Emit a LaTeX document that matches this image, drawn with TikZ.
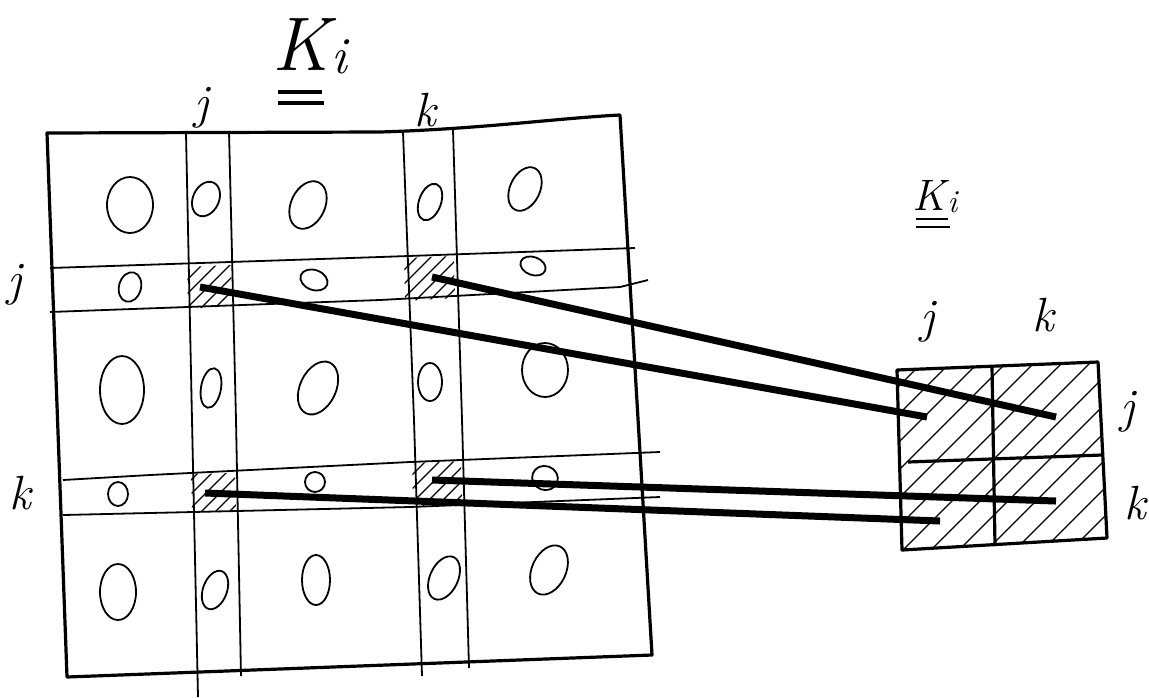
\documentclass[tikz,border=0pt]{standalone}
\begin{document}
\begin{tikzpicture}[x=0.5pt,y=-0.5pt,
  grid/.style={line width=0.9pt, line join=round},
  outer/.style={line width=1.6pt, line join=round},
  blob/.style={line width=0.9pt},
  hatchline/.style={line width=0.6pt},
  conn/.style={line width=3.5pt},
  lab/.style={font=\fontsize{24}{24}\selectfont\itshape, inner sep=0pt},
  biglab/.style={font=\fontsize{38}{38}\selectfont\itshape, inner sep=0pt, anchor=base west},
  midlab/.style={font=\fontsize{22}{22}\selectfont\itshape, inner sep=0pt, anchor=base west}]
\useasboundingbox (0,0) rectangle (1149,697);

% hatched cells of the big matrix
\begin{scope}
\clip (187,267) -- (231,265) -- (232,306) -- (188,309) -- cycle;
\foreach \d in {-40,-26,...,60} \draw[hatchline] (187+\d,320) -- (247+\d,260);
\end{scope}
\begin{scope}
\clip (404,258) -- (454,256) -- (455,298) -- (405,301) -- cycle;
\foreach \d in {-40,-26,...,70} \draw[hatchline] (404+\d,310) -- (464+\d,250);
\end{scope}
\begin{scope}
\clip (191,474) -- (235,473) -- (236,511) -- (192,512) -- cycle;
\foreach \d in {-40,-26,...,60} \draw[hatchline] (191+\d,520) -- (251+\d,460);
\end{scope}
\begin{scope}
\clip (412,463) -- (461,461) -- (462,505) -- (413,507) -- cycle;
\foreach \d in {-40,-26,...,70} \draw[hatchline] (412+\d,515) -- (472+\d,455);
\end{scope}

% big matrix outline
\draw[outer] (47,133) -- (380,132) .. controls (480,129) and (560,118) .. (620,115) -- (652,655) -- (67,677) -- cycle;

% columns j and k
\draw[grid] (186,133) -- (192,420) -- (198,697);
\draw[grid] (229,131) -- (236,420) -- (241,676);
\draw[grid] (403,132) -- (414,420) -- (422,676);
\draw[grid] (453,130) -- (462,420) -- (469,668);

% rows j and k
\draw[grid] (50,268) -- (380,257) -- (635,248);
\draw[grid] (50,312) -- (380,300) -- (620,287) -- (648,280);
\draw[grid] (63,480) -- (150,475) -- (410,462) -- (660,452);
\draw[grid] (63,515) -- (410,507) -- (660,497);

% entries (circles)
\draw[blob] (130,205) ellipse [x radius=23, y radius=28];
\draw[blob] (206,199) ellipse [x radius=13, y radius=18, rotate=-25];
\draw[blob] (308,205) ellipse [x radius=17, y radius=25, rotate=-25];
\draw[blob] (430,202) ellipse [x radius=11, y radius=19, rotate=-20];
\draw[blob] (525,189) ellipse [x radius=15, y radius=23, rotate=-25];

\draw[blob] (130,287) ellipse [x radius=11, y radius=15, rotate=-15];
\draw[blob] (314,280) ellipse [x radius=14, y radius=10, rotate=-20];
\draw[blob] (533,266) ellipse [x radius=13, y radius=9, rotate=-20];

\draw[blob] (122,390) ellipse [x radius=22, y radius=34];
\draw[blob] (211,388) ellipse [x radius=10, y radius=20, rotate=-10];
\draw[blob] (318,388) ellipse [x radius=18, y radius=28, rotate=-25];
\draw[blob] (430,382) ellipse [x radius=12, y radius=19];
\draw[blob] (545,370) ellipse [x radius=23, y radius=27];

\draw[blob] (118,494) ellipse [x radius=10, y radius=12];
\draw[blob] (315,482) ellipse [x radius=10, y radius=10];
\draw[blob] (545,478) ellipse [x radius=13, y radius=12, rotate=-20];

\draw[blob] (118,592) ellipse [x radius=18, y radius=28];
\draw[blob] (215,590) ellipse [x radius=12, y radius=20, rotate=-20];
\draw[blob] (316,580) ellipse [x radius=14, y radius=25];
\draw[blob] (444,578) ellipse [x radius=14, y radius=23, rotate=-25];
\draw[blob] (549,570) ellipse [x radius=17, y radius=26, rotate=-25];

% small matrix
\begin{scope}
\clip (897,370) -- (1098,362) -- (1107,538) -- (902,550) -- cycle;
\foreach \d in {-200,-172,...,220} \draw[hatchline] (897+\d,560) -- (1097+\d,360);
\end{scope}
\draw[outer] (897,370) -- (1098,362) -- (1107,538) -- (902,550) -- cycle;
\draw[outer] (992,367) -- (995,546);
\draw[outer] (908,462) -- (1102,455);

% connector end points
\coordinate (s1) at (200,287);
\coordinate (s2) at (432,277);
\coordinate (s3) at (205,493);
\coordinate (s4) at (432,480);
\coordinate (e1) at (927,417);
\coordinate (e2) at (1056,417);
\coordinate (e3) at (940,521);
\coordinate (e4) at (1056,501);
\draw[conn] (s1) -- (e1);
\draw[conn] (s2) -- (e2);
\draw[conn] (s3) -- (e3);
\draw[conn] (s4) -- (e4);

% labels of the big matrix
\node[biglab] (Kbig) at (272,70) {K\kern1pt\raisebox{-0.05em}{\fontsize{26}{26}\selectfont i}};
\draw[outer] (278,92) -- (322,92);
\draw[outer] (278,103) -- (324,103);
\node[lab] (tj) at (202,108) {j};
\node[lab] (tk) at (425,110) {k};
\node[lab] (lj) at (15,285) {j};
\node[lab] (lk) at (20,493) {k};

% labels of the small matrix
\node[midlab] (Ksmall) at (912,210) {K\kern1pt\raisebox{-0.05em}{\fontsize{16}{16}\selectfont i}};
\draw[grid] (916,219) -- (948,219);
\draw[grid] (916,227) -- (950,227);
\node[lab] (sj) at (928,322) {j};
\node[lab] (sk) at (1043,315) {k};
\node[lab] (rj) at (1128,412) {j};
\node[lab] (rk) at (1135,503) {k};
\end{tikzpicture}
\end{document}
